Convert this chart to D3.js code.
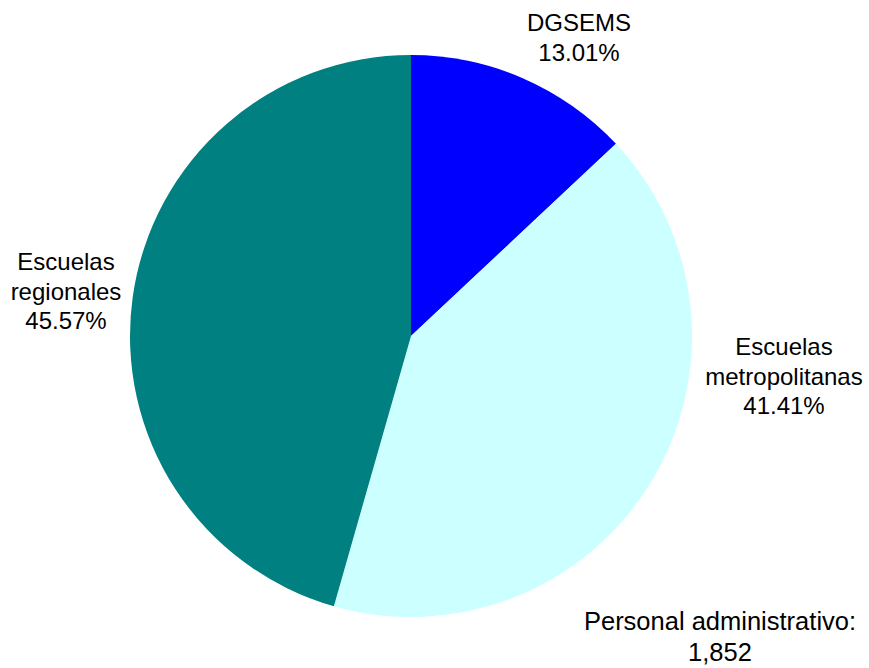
<!DOCTYPE html>
<html>
<head>
<meta charset="utf-8">
<script src="https://cdn.jsdelivr.net/npm/d3@7"></script>
<style>
  html, body { margin: 0; padding: 0; background: #fff; }
  svg { display: block; }
  text { font-family: "Liberation Sans", Arial, sans-serif; font-size: 24px; fill: #000; }
</style>
</head>
<body>
<svg id="chart" width="869" height="668"></svg>
<script>
const categories = ["DGSEMS", "Escuelas metropolitanas", "Escuelas regionales"];
const values = [13.01, 41.41, 45.57];
const labelLines = [["DGSEMS", "13.01%"], ["Escuelas", "metropolitanas", "41.41%"], ["Escuelas", "regionales", "45.57%"]];
const colors = ["#0000FF", "#CCFFFF", "#008080"];
const footnote = ["Personal administrativo:", "1,852"];

const svg = d3.select("#chart");
const cx = 411, cy = 336, r = 281;

const pie = d3.pie().sort(null).value(d => d)(values);
const arc = d3.arc().innerRadius(0).outerRadius(r);

const g = svg.append("g").attr("transform", `translate(${cx},${cy})`);
g.selectAll("path").data(pie).join("path")
  .attr("d", arc)
  .attr("fill", (d, i) => colors[i]);

// label anchor positions (center x, first baseline y)
const labelPos = [[579, 31], [784, 355], [66, 270]];
const lh = 29.5;
labelLines.forEach((lines, i) => {
  const t = svg.append("text").attr("text-anchor", "middle");
  lines.forEach((s, j) => {
    t.append("tspan").attr("x", labelPos[i][0]).attr("y", labelPos[i][1] + j * lh).text(s);
  });
});

const f = svg.append("text").attr("text-anchor", "middle").style("font-size", "25.5px");
footnote.forEach((s, j) => {
  f.append("tspan").attr("x", 720).attr("y", 630 + j * 31).text(s);
});
</script>
</body>
</html>
